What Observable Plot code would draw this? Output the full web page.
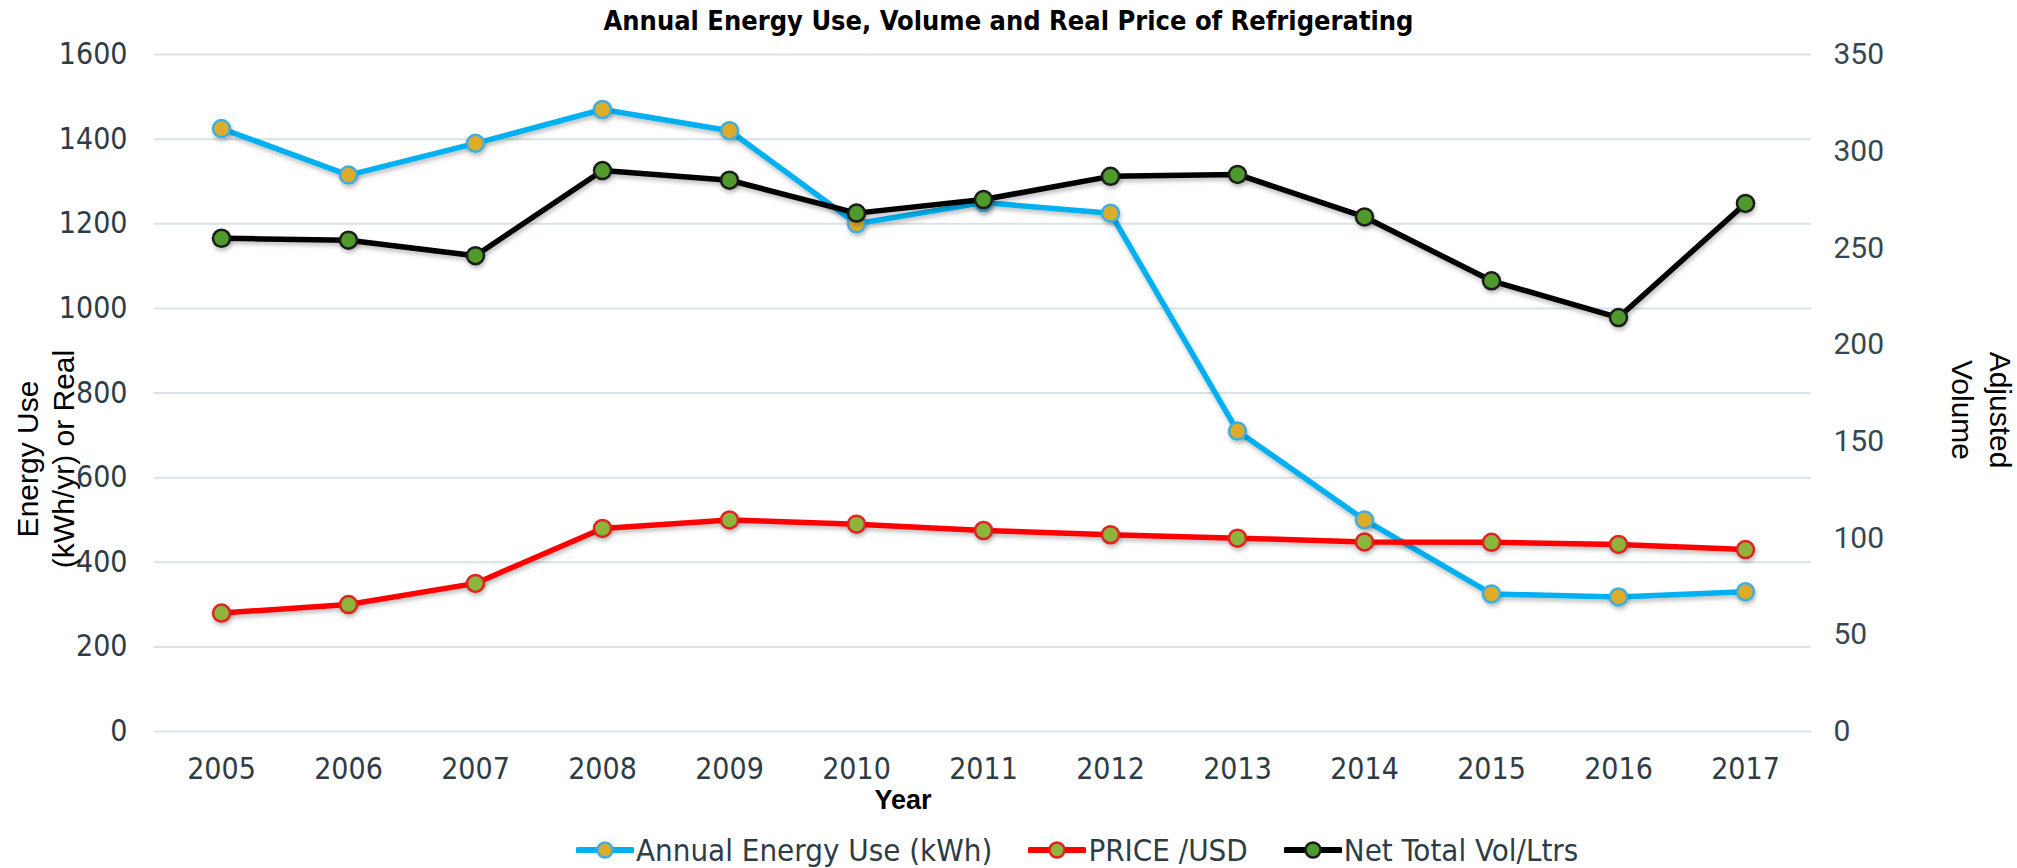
<!DOCTYPE html>
<html>
<head>
<meta charset="utf-8">
<script src="https://cdn.jsdelivr.net/npm/d3@7"></script>
<script src="https://cdn.jsdelivr.net/npm/@observablehq/plot@0.6"></script>
<style>
  html, body { margin: 0; padding: 0; background: #fff; }
  body { width: 2017px; height: 868px; position: relative; overflow: hidden; }
  #chart { position: absolute; left: 0; top: 0; }
  #title { position: absolute; left: 0; top: 0; width: 2017px; height: 42px; line-height: 42px; text-align: center;
    font-family: "DejaVu Sans Condensed", sans-serif; font-weight: bold; font-size: 27px; color: #000; }
  .alabel { position: absolute; white-space: pre; text-align: center; font-family: "Liberation Sans", Arial, sans-serif;
    font-size: 30px; color: #000; transform-origin: center center; }
  #ylab { left: 46px; top: 459px; line-height: 36px; transform: translate(-50%, -50%) rotate(-90deg); }
  #y2lab { left: 1981px; top: 410px; line-height: 38px; transform: translate(-50%, -50%) rotate(90deg); }
  #xlab { left: 903px; top: 800px; font-weight: bold; font-size: 27px; transform: translate(-50%, -50%); }
  #legend { position: absolute; left: 576px; top: 826px; height: 48px; display: flex; align-items: center; gap: 36px;
    font-family: "DejaVu Sans Condensed", sans-serif; font-size: 31px; color: #2e3c46; }
  .item { display: flex; align-items: center; gap: 2px; }
</style>
</head>
<body>
<div id="chart"></div>
<div id="title">Annual Energy Use, Volume and Real Price of Refrigerating</div>
<div id="ylab" class="alabel">Energy Use
(kWh/yr) or Real</div>
<div id="y2lab" class="alabel">Adjusted
Volume</div>
<div id="xlab" class="alabel">Year</div>
<div id="legend"></div>
<script>
const years = [2005, 2006, 2007, 2008, 2009, 2010, 2011, 2012, 2013, 2014, 2015, 2016, 2017];
const energyUse = [1425, 1315, 1390, 1470, 1420, 1200, 1250, 1225, 710, 500, 325, 318, 330];
const priceUSD = [280, 300, 350, 480, 500, 490, 475, 465, 457, 448, 447, 442, 430];
const volumeLtrs = [255, 254, 246, 290, 285, 268, 275, 287, 288, 266, 233, 214, 273];
const leftTicks = [0, 200, 400, 600, 800, 1000, 1200, 1400, 1600];
const rightTicks = [0, 50, 100, 150, 200, 250, 300, 350];
const seriesNames = ["Annual Energy Use (kWh)", "PRICE /USD", "Net Total Vol/Ltrs"];

const leftMax = 1600, rightMax = 350;
const k = leftMax / rightMax;

const series = [
  {name: seriesNames[0], values: energyUse, scale: 1, line: "#00B0F0", fill: "#DDAC2C", ring: "#3EAEDD"},
  {name: seriesNames[1], values: priceUSD, scale: 1, line: "#FF0000", fill: "#8DB43C", ring: "#E02020"},
  {name: seriesNames[2], values: volumeLtrs, scale: k, line: "#000000", fill: "#4F9A2C", ring: "#1a1a1a"}
];

const rows = series.map(s => years.map((yr, i) => ({year: yr, v: s.values[i] * s.scale, name: s.name})));

const tickFont = '"DejaVu Sans Condensed", sans-serif';

const marks = [
  Plot.gridY(leftTicks, {stroke: "#d9e2e6", strokeOpacity: 1, strokeWidth: 2}),
  Plot.axisX({tickSize: 0, tickPadding: 26, fontSize: 30, fontFamily: tickFont, fill: "#2e3c46", label: null, tickFormat: d => String(d)}),
  Plot.axisY(leftTicks, {anchor: "left", tickSize: 0, tickPadding: 27, fontSize: 30, fontFamily: tickFont, fill: "#2e3c46", label: null, tickFormat: d => String(d)}),
  Plot.axisY(rightTicks.map(v => v * k), {anchor: "right", tickSize: 0, tickPadding: 22, fontSize: 30, fontFamily: "Roboto, sans-serif", fill: "#37474f", label: null,
    tickFormat: d => String(Math.round(d / k))})
];
series.forEach((s, i) => {
  marks.push(Plot.line(rows[i], {x: "year", y: "v", stroke: s.line, strokeWidth: 5.5, strokeLinejoin: "round"}));
  marks.push(Plot.dot(rows[i], {x: "year", y: "v", r: 8.5, fill: s.fill, stroke: s.ring, strokeWidth: 2.5}));
});

const chart = Plot.plot({
  width: 2017,
  height: 868,
  marginLeft: 154,
  marginRight: 206,
  marginTop: 54,
  marginBottom: 137,
  style: {background: "transparent"},
  x: {type: "point", domain: years, padding: 0.5, label: null},
  y: {domain: [0, leftMax], label: null},
  marks
});
document.getElementById("chart").appendChild(chart);

// soft drop shadow like the spreadsheet original
const svg = d3.select(chart);
const defs = svg.insert("defs", ":first-child");
const f = defs.append("filter").attr("id", "shadow").attr("x", "-10%").attr("y", "-10%").attr("width", "120%").attr("height", "130%");
f.append("feDropShadow").attr("dx", 1).attr("dy", 3).attr("stdDeviation", 2).attr("flood-color", "#000").attr("flood-opacity", 0.25);
svg.selectAll('g[aria-label="line"], g[aria-label="dot"]').attr("filter", "url(#shadow)");

// legend
const legend = d3.select("#legend");
series.forEach(s => {
  const it = legend.append("div").attr("class", "item");
  const sw = it.append("svg").attr("width", 58).attr("height", 24);
  sw.append("line").attr("x1", 2).attr("x2", 56).attr("y1", 12).attr("y2", 12).attr("stroke", s.line).attr("stroke-width", 6).attr("stroke-linecap", "round");
  sw.append("circle").attr("cx", 29).attr("cy", 12).attr("r", 7.5).attr("fill", s.fill).attr("stroke", s.ring).attr("stroke-width", 2.5);
  it.append("span").text(s.name);
});
</script>
</body>
</html>
